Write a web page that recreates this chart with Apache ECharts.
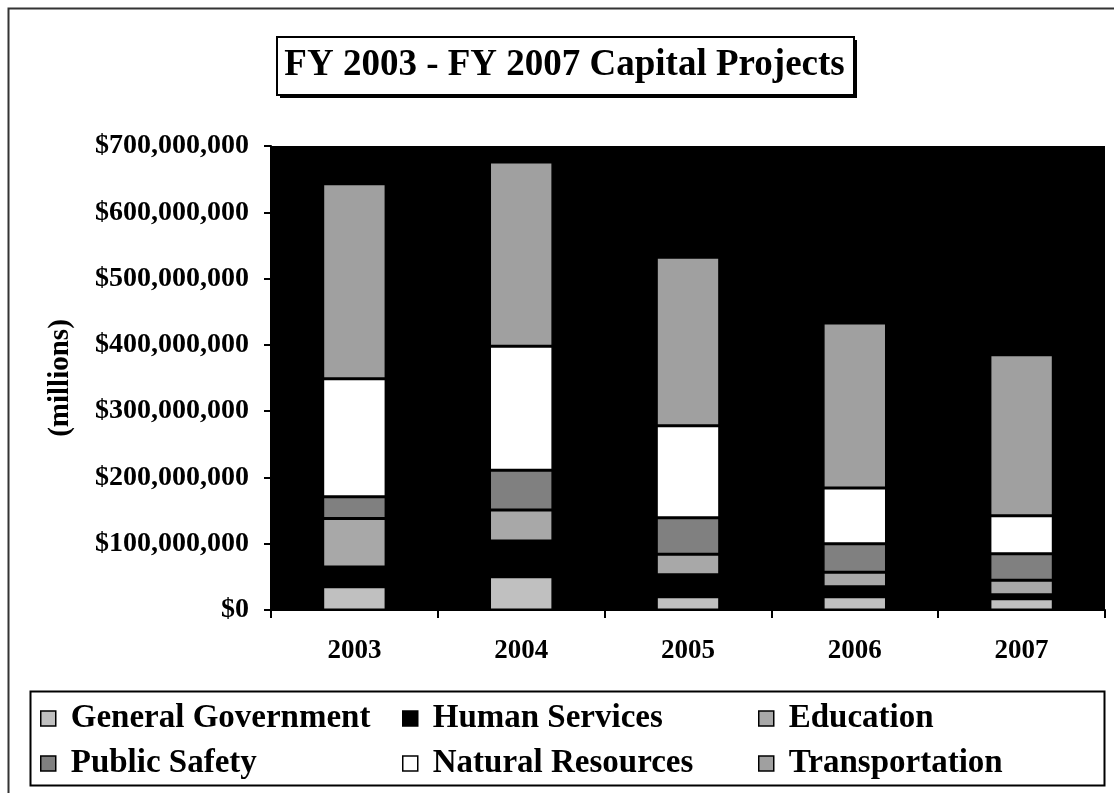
<!DOCTYPE html>
<html>
<head>
<meta charset="utf-8">
<title>FY 2003 - FY 2007 Capital Projects</title>
<script src="https://cdn.jsdelivr.net/npm/echarts@6/dist/echarts.min.js"></script>
<style>
  html, body { margin: 0; padding: 0; background: #ffffff; }
  #chart { width: 1114px; height: 793px; }
</style>
</head>
<body>
<div id="chart"></div>
<script>
// Fiscal years on the category axis
const years = ['2003', '2004', '2005', '2006', '2007'];

// Capital project spending by function, in dollars
const generalGovernment = [35e6, 50e6, 20e6, 20e6, 17e6];
const humanServices     = [30e6, 54e6, 33e6, 15e6, 6e6];
const education         = [73e6, 47e6, 31e6, 22e6, 22e6];
const publicSafety      = [33e6, 60e6, 55e6, 43e6, 40e6];
const naturalResources  = [178e6, 187e6, 139e6, 84e6, 57e6];
const transportation    = [294e6, 278e6, 254e6, 249e6, 243e6];

// Value axis range and step
const yMin = 0;
const yMax = 700e6;
const yStep = 100e6;

const serif = '"Liberation Serif", "Times New Roman", Times, serif';

const seriesDefs = [
  { name: 'General Government', data: generalGovernment, color: '#c0c0c0' },
  { name: 'Human Services',     data: humanServices,     color: '#000000' },
  { name: 'Education',          data: education,         color: '#a8a8a8' },
  { name: 'Public Safety',      data: publicSafety,      color: '#808080' },
  { name: 'Natural Resources',  data: naturalResources,  color: '#ffffff' },
  { name: 'Transportation',     data: transportation,    color: '#a0a0a0' }
];

const chart = echarts.init(document.getElementById('chart'), null, { renderer: 'canvas' });

const legendText = {
  fontFamily: serif, fontWeight: 'bold', fontSize: 33, lineHeight: 33,
  color: '#000', padding: [0, 0, 0, 10]
};
function legendColumn(names, left) {
  return {
    data: names,
    orient: 'vertical',
    left: left,
    top: 702,
    padding: 0,
    itemWidth: 15,
    itemHeight: 15,
    itemGap: 12,
    icon: 'rect',
    selectedMode: false,
    itemStyle: { borderColor: '#000', borderWidth: 1.5 },
    textStyle: legendText
  };
}

// Title frame with its drop shadow
const titleBox = { x: 276, y: 36, w: 577, h: 58 };

chart.setOption({
  animation: false,
  backgroundColor: '#ffffff',
  title: {
    text: 'FY 2003 - FY 2007 Capital Projects',
    left: titleBox.x + titleBox.w / 2,
    textAlign: 'center',
    top: 45,
    padding: 0,
    textStyle: { fontFamily: serif, fontWeight: 'bold', fontSize: 37, lineHeight: 40, color: '#000' },
    z: 20
  },
  legend: [
    legendColumn(['General Government', 'Public Safety'], 40),
    legendColumn(['Human Services', 'Natural Resources'], 402),
    legendColumn(['Education', 'Transportation'], 758)
  ],
  grid: {
    left: 271,
    right: 9,
    top: 146,
    bottom: 183,
    show: true,
    backgroundColor: '#000000',
    borderWidth: 0
  },
  xAxis: {
    type: 'category',
    data: years,
    axisLine: { show: true, lineStyle: { color: '#000', width: 2 } },
    axisTick: { show: true, length: 8, lineStyle: { color: '#000', width: 2 } },
    axisLabel: { margin: 28, fontFamily: serif, fontWeight: 'bold', fontSize: 27, color: '#000' }
  },
  yAxis: {
    type: 'value',
    min: yMin,
    max: yMax,
    interval: yStep,
    name: '(millions)',
    nameLocation: 'middle',
    nameGap: 196,
    nameTextStyle: { fontFamily: serif, fontWeight: 'bold', fontSize: 29, color: '#000' },
    axisLine: { show: true, lineStyle: { color: '#000', width: 2 } },
    axisTick: { show: true, length: 7, lineStyle: { color: '#000', width: 2 } },
    splitLine: { show: false },
    axisLabel: {
      margin: 22,
      fontFamily: serif,
      fontWeight: 'bold',
      fontSize: 28,
      color: '#000',
      formatter: v => '$' + v.toLocaleString('en-US')
    }
  },
  graphic: [
    {
      // outer chart frame
      type: 'rect',
      left: 6,
      top: 6,
      shape: { width: 1300, height: 1000 },
      style: { fill: 'none', stroke: '#333', lineWidth: 2 },
      silent: true
    },
    {
      // title shadow
      type: 'rect',
      left: titleBox.x + 4,
      top: titleBox.y + 4,
      shape: { width: titleBox.w, height: titleBox.h },
      style: { fill: '#000' },
      silent: true,
      z: 5
    },
    {
      // title frame
      type: 'rect',
      left: titleBox.x,
      top: titleBox.y,
      shape: { width: titleBox.w, height: titleBox.h },
      style: { fill: '#fff', stroke: '#000', lineWidth: 2 },
      silent: true,
      z: 6
    },
    {
      // legend frame
      type: 'rect',
      left: 28,
      top: 689,
      shape: { width: 1074, height: 94 },
      style: { fill: 'none', stroke: '#000', lineWidth: 2 },
      silent: true,
      z: 10
    }
  ],
  series: seriesDefs.map(s => ({
    name: s.name,
    type: 'bar',
    stack: 'total',
    data: s.data,
    barWidth: '38%',
    itemStyle: { color: s.color, borderColor: '#000', borderWidth: 1.5 },
    emphasis: { disabled: true }
  }))
});
</script>
</body>
</html>
